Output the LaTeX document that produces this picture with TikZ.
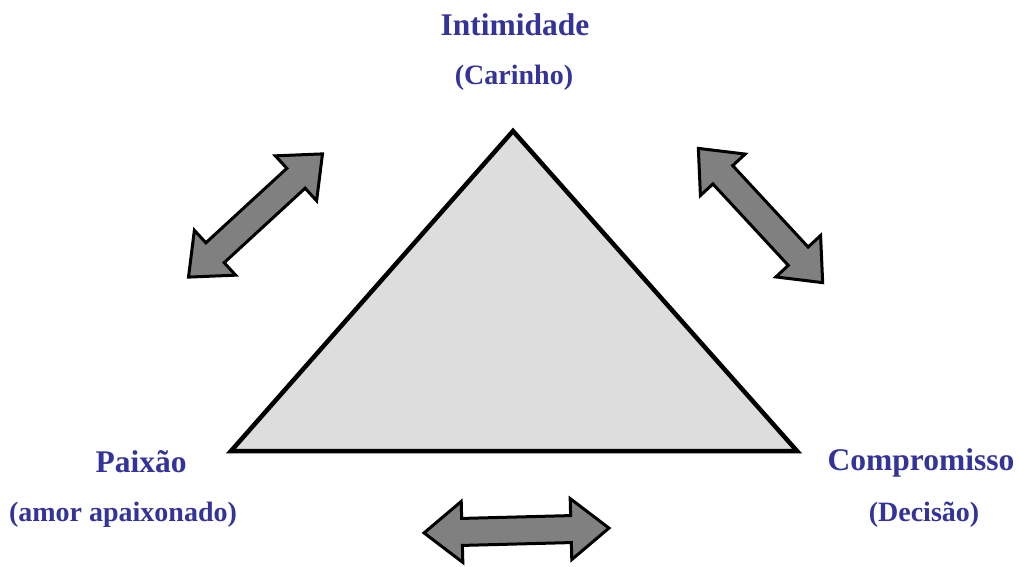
\documentclass[tikz,border=0pt]{standalone}
\usepackage{fontspec}
\setmainfont{Liberation Serif}
\definecolor{lbl}{HTML}{333399}
\definecolor{trifill}{HTML}{DDDDDD}
\definecolor{arrfill}{HTML}{808080}
\tikzset{
  title/.style={anchor=base, inner sep=0pt, text=lbl, font=\bfseries\fontsize{31.5}{36}\selectfont},
  subtitle/.style={anchor=base, inner sep=0pt, text=lbl, font=\bfseries\fontsize{28}{32}\selectfont},
  tri/.style={draw=black, line width=4.5pt, fill=trifill, line join=miter},
  dblarrow/.style={draw=black, line width=3pt, fill=arrfill, line join=miter}
}
\newcommand{\shaftw}{27}
\newcommand{\dblarr}[6]{% #1 cx, #2 cy, #3 angle, #4 length, #5 head length, #6 head width
  \draw[dblarrow, shift={(#1,#2)}, rotate=#3]
    (-#4/2,0) -- (-#4/2+#5, #6/2) -- (-#4/2+#5, \shaftw/2) -- (#4/2-#5, \shaftw/2)
    -- (#4/2-#5, #6/2) -- (#4/2,0) -- (#4/2-#5,-#6/2) -- (#4/2-#5,-\shaftw/2)
    -- (-#4/2+#5,-\shaftw/2) -- (-#4/2+#5,-#6/2) -- cycle;}
\begin{document}
\begin{tikzpicture}[x=1pt,y=1pt]
\useasboundingbox (0,0) rectangle (1019,566);
% triangle
\coordinate (apex) at (513,435);
\coordinate (bl) at (231,115);
\coordinate (br) at (797,115);
\draw[tri] (apex) -- (bl) -- (br) -- cycle;
% arrows
\dblarr{255.5}{350.5}{42.6}{182}{36}{61}
\dblarr{760.5}{350.5}{-47.2}{183}{36}{61}
\dblarr{516.5}{35.5}{1.5}{185}{38}{61}
% labels
\node[title] (intim) at (515,530) {Intimidade};
\node[subtitle] (carinho) at (514,481) {(Carinho)};
\node[title] (paixao) at (141,94) {Paixão};
\node[subtitle] (amor) at (123,45) {(amor apaixonado)};
\node[title] (comp) at (921,96) {Compromisso};
\node[subtitle] (decisao) at (924,45) {(Decisão)};
\end{tikzpicture}
\end{document}
